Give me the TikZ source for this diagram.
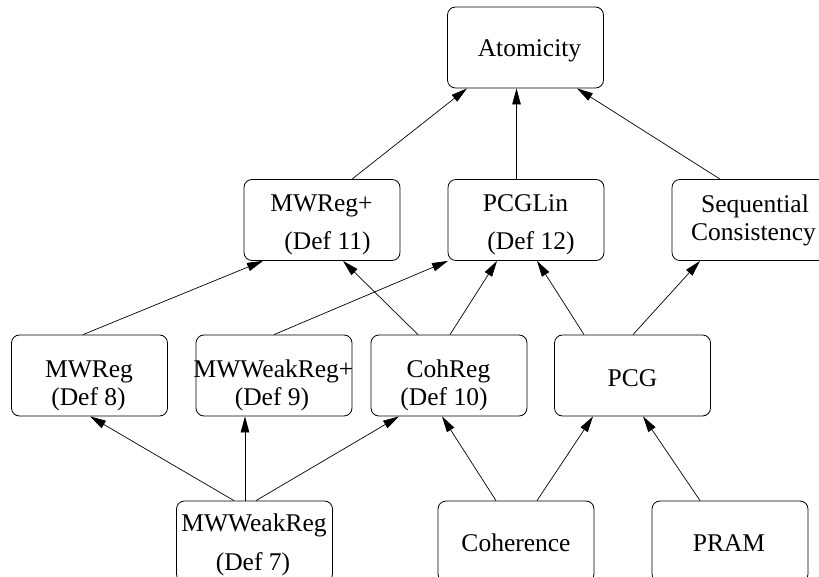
\documentclass[tikz,border=0pt]{standalone}
\usepackage{fontspec}
\setmainfont{Liberation Serif}
\usetikzlibrary{arrows.meta}
\begin{document}
\begin{tikzpicture}[x=1pt,y=-1pt,
  box/.style={draw, rounded corners=8pt, minimum width=156pt, minimum height=81pt, inner sep=0pt, line width=0.8pt},
  lbl/.style={anchor=base, inner sep=0pt, font=\fontsize{25.5}{30}\selectfont},
  conn/.style={line width=0.7pt, -{Triangle[length=16pt,width=8.5pt]}}]
\useasboundingbox (0,0) rectangle (819,577);
% boxes
\node[box] (atom)   at (525.5,47.5) {};
\node[box] (mwregp) at (322,220) {};
\node[box] (pcglin) at (526,220) {};
\node[box] (seq)    at (750,220) {};
\node[box] (mwreg)  at (89.5,375.5) {};
\node[box] (mwwrp)  at (274,375.5) {};
\node[box] (cohreg) at (449,375.5) {};
\node[box] (pcg)    at (632.5,375.5) {};
\node[box] (mwwr)   at (254.5,541.5) {};
\node[box] (coh)    at (516,541.5) {};
\node[box] (pram)   at (730,541.5) {};
% texts
\node[lbl] (t1)  at (529.5,57) {Atomicity};
\node[lbl] (t2a) at (321.5,212) {MWReg+};
\node[lbl] (t2b) at (327.5,250) {(Def 11)};
\node[lbl] (t3a) at (525.5,212) {PCGLin};
\node[lbl] (t3b) at (531,250) {(Def 12)};
\node[lbl] (t4a) at (755,213) {Sequential};
\node[lbl] (t4b) at (753.5,241) {Consistency};
\node[lbl] (t5a) at (89,377) {MWReg};
\node[lbl] (t5b) at (88.5,405.5) {(Def 8)};
\node[lbl] (t6a) at (273.5,377) {MWWeakReg+};
\node[lbl] (t6b) at (272,405.5) {(Def 9)};
\node[lbl] (t7a) at (448.5,377) {CohReg};
\node[lbl] (t7b) at (444,405.5) {(Def 10)};
\node[lbl] (t8)  at (632.5,386.5) {PCG};
\node[lbl] (t9a) at (254,531.5) {MWWeakReg};
\node[lbl] (t9b) at (253,570) {(Def 7)};
\node[lbl] (t10) at (516,551.5) {Coherence};
\node[lbl] (t11) at (729,551.5) {PRAM};
% connectors
\draw[conn] ([xshift=30pt]mwregp.north) -- ([xshift=-58.5pt]atom.south);
\draw[conn] ([xshift=-9.5pt]pcglin.north) -- ([xshift=-9pt]atom.south);
\draw[conn] ([xshift=-30pt]seq.north) -- ([xshift=51.5pt]atom.south);
\draw[conn] ([xshift=-6.5pt]mwreg.north) -- ([xshift=-59pt]mwregp.south);
\draw[conn] (mwwrp.north) -- ([xshift=-78pt]pcglin.south);
\draw[conn] ([xshift=-31pt]cohreg.north) -- ([xshift=21pt]mwregp.south);
\draw[conn] ([xshift=1pt]cohreg.north) -- ([xshift=-29pt]pcglin.south);
\draw[conn] ([xshift=-48.5pt]pcg.north) -- ([xshift=11pt]pcglin.south);
\draw[conn] ([xshift=0.5pt]pcg.north) -- ([xshift=-50pt]seq.south);
\draw[conn] ([xshift=-20.5pt]mwwr.north) -- ([xshift=0.5pt]mwreg.south);
\draw[conn] ([xshift=-9.5pt]mwwr.north) -- ([xshift=-29pt]mwwrp.south);
\draw[conn] ([xshift=1.5pt]mwwr.north) -- ([xshift=-50pt]cohreg.south);
\draw[conn] ([xshift=-20pt]coh.north) -- ([xshift=-7pt]cohreg.south);
\draw[conn] ([xshift=21pt]coh.north) -- ([xshift=-39.5pt]pcg.south);
\draw[conn] ([xshift=-30pt]pram.north) -- ([xshift=10.5pt]pcg.south);
\end{tikzpicture}
\end{document}
